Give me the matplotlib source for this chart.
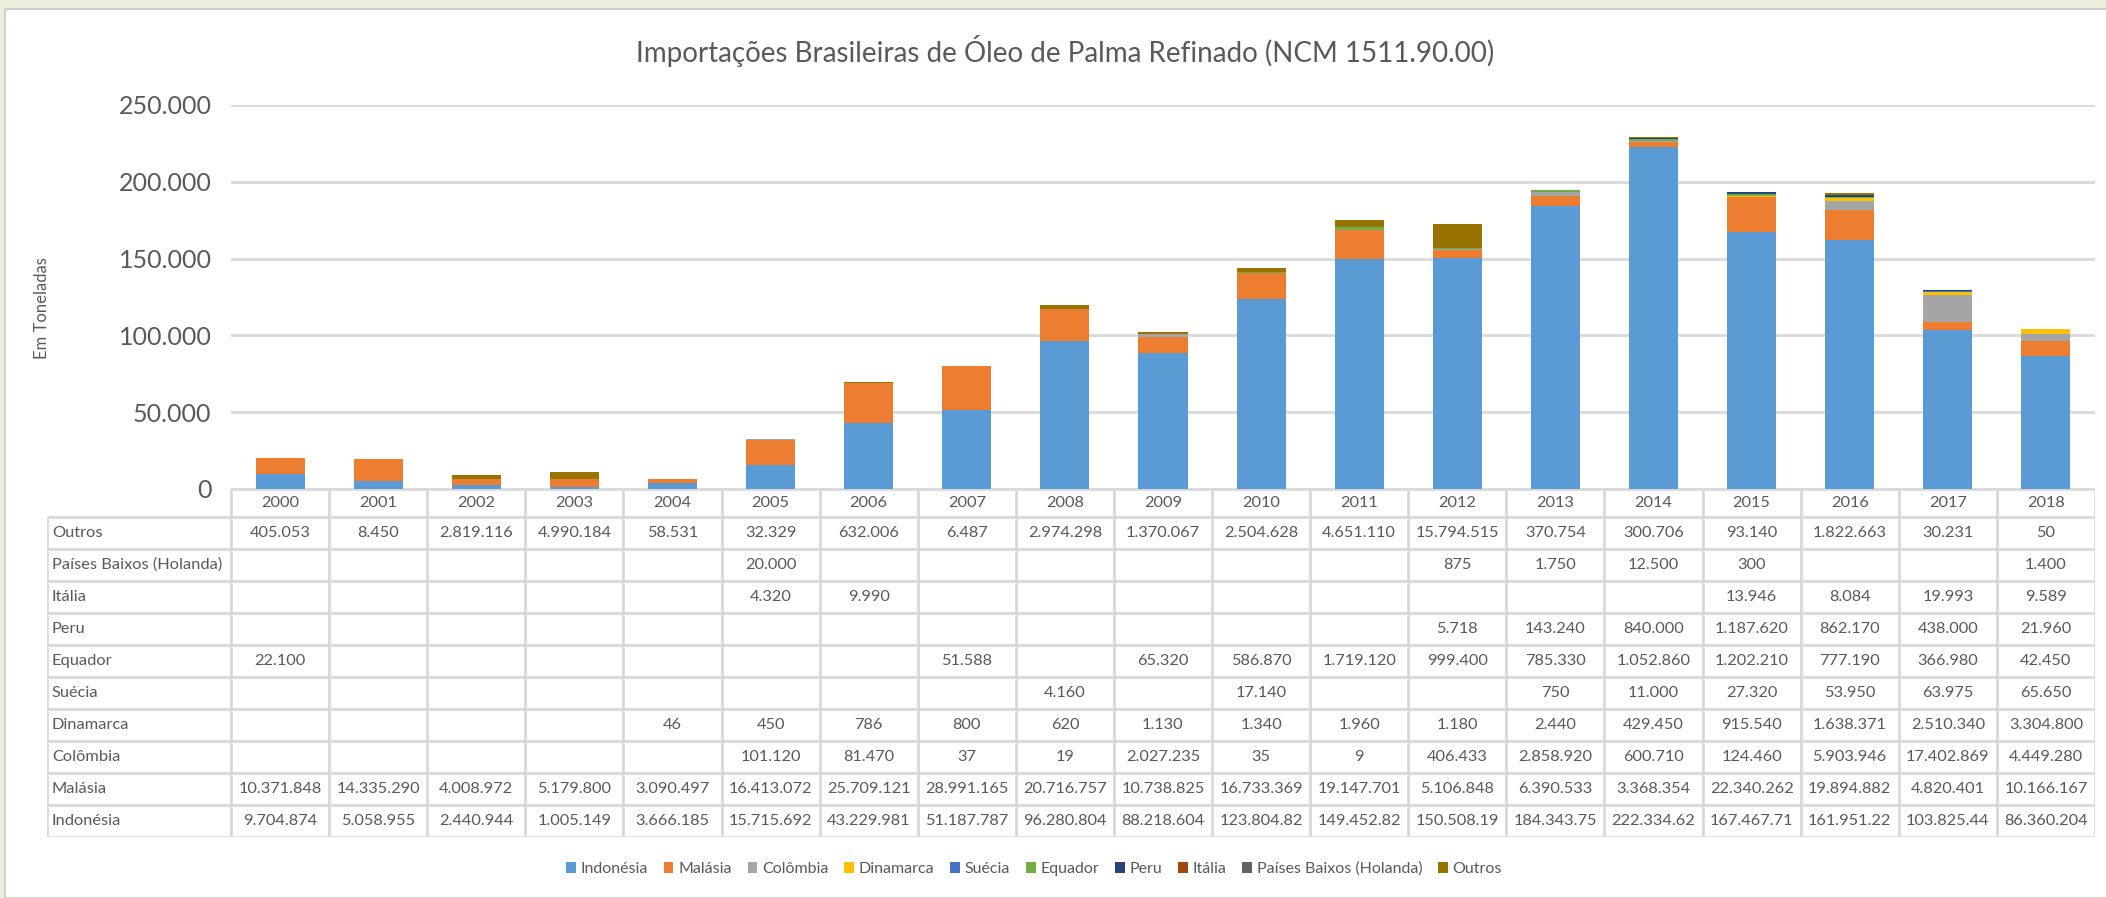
import matplotlib.pyplot as plt
from matplotlib.patches import Rectangle

plt.rcParams['font.family'] = ['Lato', 'DejaVu Sans']

# dados em kg (a tabela mostra kg, o gráfico em toneladas)
anos = [str(a) for a in range(2000, 2019)]
paises = ['Indonésia', 'Malásia', 'Colômbia', 'Dinamarca', 'Suécia', 'Equador',
          'Peru', 'Itália', 'Países Baixos (Holanda)', 'Outros']

indonesia = [9704874, 5058955, 2440944, 1005149, 3666185, 15715692, 43229981,
             51187787, 96280804, 88218604, 123804820, 149452820, 150508190,
             184343750, 222334620, 167467710, 161951220, 103825440, 86360204]
malasia = [10371848, 14335290, 4008972, 5179800, 3090497, 16413072, 25709121,
           28991165, 20716757, 10738825, 16733369, 19147701, 5106848, 6390533,
           3368354, 22340262, 19894882, 4820401, 10166167]
colombia = [None, None, None, None, None, 101120, 81470, 37, 19, 2027235, 35, 9,
            406433, 2858920, 600710, 124460, 5903946, 17402869, 4449280]
dinamarca = [None, None, None, None, 46, 450, 786, 800, 620, 1130, 1340, 1960,
             1180, 2440, 429450, 915540, 1638371, 2510340, 3304800]
suecia = [None, None, None, None, None, None, None, None, 4160, None, 17140, None,
          None, 750, 11000, 27320, 53950, 63975, 65650]
equador = [22100, None, None, None, None, None, None, 51588, None, 65320, 586870,
           1719120, 999400, 785330, 1052860, 1202210, 777190, 366980, 42450]
peru = [None, None, None, None, None, None, None, None, None, None, None, None,
        5718, 143240, 840000, 1187620, 862170, 438000, 21960]
italia = [None, None, None, None, None, 4320, 9990, None, None, None, None, None,
          None, None, None, 13946, 8084, 19993, 9589]
holanda = [None, None, None, None, None, 20000, None, None, None, None, None, None,
           875, 1750, 12500, 300, None, None, 1400]
outros = [405053, 8450, 2819116, 4990184, 58531, 32329, 632006, 6487, 2974298,
          1370067, 2504628, 4651110, 15794515, 370754, 300706, 93140, 1822663,
          30231, 50]

series = [indonesia, malasia, colombia, dinamarca, suecia, equador, peru, italia,
          holanda, outros]
cores = ['#5B9BD5', '#ED7D31', '#A5A5A5', '#FFC000', '#4472C4', '#70AD47',
         '#264478', '#9E480E', '#636363', '#997300']

W, H = 2106, 898
cinza = '#595959'
linha = '#D9D9D9'

fig = plt.figure(figsize=(W / 100, H / 100), dpi=100, facecolor='#EBEFDC')
fig.patches.append(Rectangle((5 / W, 0), 1, 1 - 9 / H, transform=fig.transFigure,
                             facecolor='white', edgecolor='#D0D0D0', lw=1.5,
                             zorder=-10))

# gráfico de barras
x0, x1 = 231, 2095
ax = fig.add_axes([x0 / W, 1 - 489 / H, (x1 - x0) / W, (489 - 105) / H])
base = [0.0] * len(anos)
for nome, vals, cor in zip(paises, series, cores):
    v = [(a or 0) / 1000 for a in vals]
    ax.bar(range(len(anos)), v, 0.5, bottom=base, color=cor, label=nome, zorder=3)
    base = [b + c for b, c in zip(base, v)]
ax.set_xlim(-0.5, len(anos) - 0.5)
ax.set_ylim(0, 250000)
ax.set_yticks(range(0, 250001, 50000))
ax.set_yticklabels([f'{t:,}'.replace(',', '.') for t in range(0, 250001, 50000)],
                   fontsize=18, color=cinza)
ax.set_xticks([])
ax.tick_params(axis='y', length=0, pad=14)
ax.grid(axis='y', color=linha, lw=2, zorder=0)
for s in ax.spines.values():
    s.set_visible(False)
ax.set_facecolor('none')
ax.set_ylabel('Em Toneladas', fontsize=12, color=cinza, labelpad=0)
ax.yaxis.set_label_coords(-(x0 - 50) / (x1 - x0), 0.47)

fig.text(1065 / W, 1 - 51 / H,
         'Importações Brasileiras de Óleo de Palma Refinado (NCM 1511.90.00)',
         ha='center', va='center', fontsize=20, color=cinza)

# tabela de dados
t0 = 47
col = (x1 - x0) / len(anos)
esq = -0.5 - (x0 - t0) / col
hdr = 28 / 32
tb = fig.add_axes([t0 / W, 1 - 837 / H, (x1 - t0) / W, (837 - 489) / H])
tb.set_xlim(esq, len(anos) - 0.5)
tb.set_ylim(10, -hdr)
tb.axis('off')

for i, a in enumerate(anos):
    tb.text(i, -hdr / 2, a, ha='center', va='center', fontsize=11.8, color=cinza)

linhas = list(zip(paises, series))[::-1]
for r, (nome, vals) in enumerate(linhas):
    tb.text(esq + 0.05, r + 0.5, nome, ha='left', va='center', fontsize=11.8,
            color=cinza)
    for i, v in enumerate(vals):
        if v is None:
            continue
        s = f'{v:,}'.replace(',', '.')[:10]
        tb.text(i, r + 0.5, s, ha='center', va='center', fontsize=11.8, color=cinza)

lk = dict(color=linha, lw=2, solid_capstyle='butt')
tb.plot([-0.5, len(anos) - 0.5], [-hdr, -hdr], **lk)
for r in range(11):
    tb.plot([esq, len(anos) - 0.5], [r, r], **lk)
tb.plot([esq, esq], [0, 10], **lk)
for i in range(len(anos) + 1):
    tb.plot([i - 0.5, i - 0.5], [-hdr, 10], **lk)

# legenda
h, l = ax.get_legend_handles_labels()
fig.legend(h, l, loc='center', bbox_to_anchor=(1034 / W, 1 - 869 / H), ncol=10,
           frameon=False, fontsize=11.5, labelcolor=cinza, handlelength=0.6,
           handleheight=0.6, handletextpad=0.3, columnspacing=1.0)

fig.savefig('out.png', dpi=100, facecolor=fig.get_facecolor())
